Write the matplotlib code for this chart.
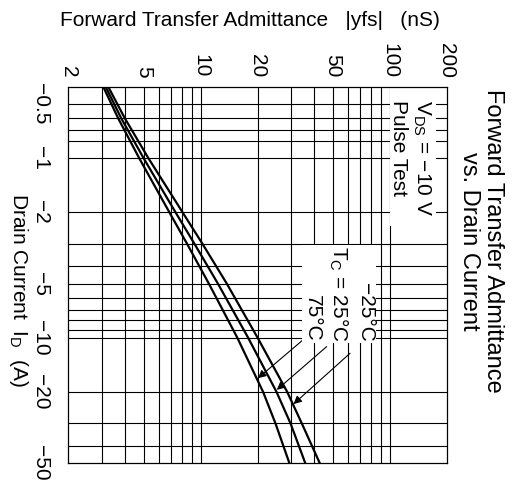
import matplotlib
matplotlib.use("Agg")
import matplotlib.pyplot as plt
from matplotlib.patches import Rectangle
from matplotlib.ticker import NullLocator

plt.rcParams['font.family'] = ['Liberation Sans', 'DejaVu Sans']

# drain current magnitude (A) and |yfs| (S)
drain_current = [0.4, 0.6, 1, 2, 3, 5, 10, 20, 30, 50]
yfs_75 = [3.06, 3.67, 4.74, 6.84, 8.49, 11.07, 15.65, 21.4, 24.9, 29.5]
yfs_25 = [3.15, 3.81, 5.0, 7.37, 9.29, 12.36, 17.85, 25.2, 29.9, 35.8]
yfs_m25 = [3.25, 3.98, 5.30, 8.03, 10.24, 13.77, 20.03, 28.7, 34.3, 42.7]

yfs_ticks = [2, 5, 10, 20, 50, 100, 200]
yfs_labels = ['2', '5', '10', '20', '50', '100', '200']
id_ticks = [0.5, 1, 2, 5, 10, 20, 50]
id_labels = ['\u22120.5', '\u22121', '\u22122', '\u22125', '\u221210', '\u221220', '\u221250']

yfs_grid = [3, 4, 5, 6, 7, 8, 9, 10, 20, 30, 40, 50, 60, 70, 80, 90, 100]
id_grid = [0.5, 0.6, 0.7, 0.8, 1, 2, 3, 4, 5, 6, 7, 8, 9, 10, 20, 30, 40]

# arrows (yfs, id): start at the label, tip on the curve
arrow_starts = [(36.1, 9.94), (46.4, 11.2), (61.7, 12.2)]
arrow_tips = [(20.1, 16.8), (25.3, 19.5), (31.0, 23.4)]

W, H = 514, 486
fig = plt.figure(figsize=(W / 100, H / 100), dpi=100)


def px(x, y):
    return x / W, 1 - y / H


ax = fig.add_axes([68.3 / W, 22.7 / H, 378.4 / W, 376.6 / H])
ax.set_xscale('log')
ax.set_yscale('log')
ax.set_xlim(2, 200)
ax.set_ylim(50, 0.4)

# grid
ax.vlines(yfs_grid, 0.4, 50, color='black', lw=0.8, zorder=0.5)
ax.hlines(id_grid, 2, 200, color='black', lw=0.8, zorder=0.5)
ax.add_patch(Rectangle((100, 0.4), 75, 2.0, facecolor='white',
                       edgecolor='none', zorder=1))

for vals in (yfs_75, yfs_25, yfs_m25):
    ax.plot(vals, drain_current, color='black', lw=1.6, zorder=3)

for s, t in zip(arrow_starts, arrow_tips):
    ax.annotate('', xy=t, xytext=s,
                arrowprops=dict(arrowstyle='-|>', color='black', lw=0.8,
                                mutation_scale=12, shrinkA=0, shrinkB=0),
                zorder=4)

ax.xaxis.tick_top()
ax.set_xticks(yfs_ticks)
ax.set_xticklabels(yfs_labels, rotation=-90, fontsize=15)
ax.set_yticks(id_ticks)
ax.set_yticklabels(id_labels, rotation=-90, fontsize=15)
for t in ax.get_yticklabels():
    t.set_va('center')
ax.xaxis.set_minor_locator(NullLocator())
ax.yaxis.set_minor_locator(NullLocator())
ax.tick_params(axis='x', which='both', length=0, pad=6.5)
ax.tick_params(axis='y', which='both', length=0, pad=13)
for sp in ax.spines.values():
    sp.set_linewidth(0.9)

# texts
fig.text(*px(60, 20), 'Forward Transfer Admittance   |yfs|   (nS)',
         fontsize=15, ha='left', va='center')
fig.text(*px(18, 290), 'Drain Current  I$_\\mathregular{D}$  (A)',
         fontsize=15, rotation=-90, ha='center', va='center')
fig.text(*px(481, 241), 'Forward Transfer Admittance\nvs. Drain Current',
         fontsize=17, rotation=-90, ha='center', va='center',
         multialignment='center', linespacing=1.1)
fig.text(*px(411, 100), 'V$_\\mathregular{DS}$ = \u221210 V\nPulse Test',
         fontsize=15, rotation=-90, ha='center', va='top',
         multialignment='left')
fig.text(*px(339, 342), '\u221225\u00b0C\nT$_\\mathregular{C}$ = 25\u00b0C\n75\u00b0C',
         fontsize=15, rotation=-90, ha='center', va='bottom',
         multialignment='right', linespacing=1.3, zorder=5,
         bbox=dict(facecolor='white', edgecolor='none', pad=1))

fig.savefig('out.png', dpi=100)
